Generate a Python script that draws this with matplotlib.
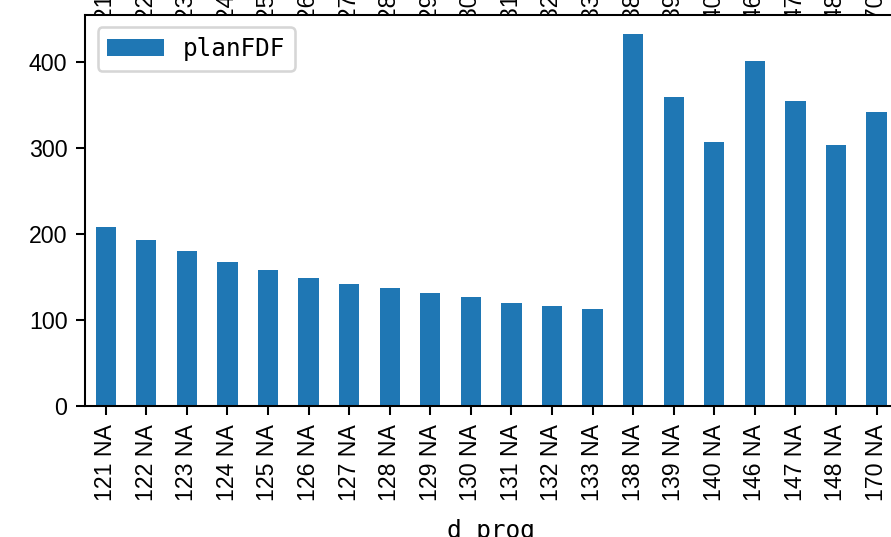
import matplotlib
matplotlib.use("Agg")
import matplotlib.pyplot as plt
import pandas as pd

# values
progs = ["121", "122", "123", "124", "125", "126", "127", "128", "129", "130",
         "131", "132", "133", "138", "139", "140", "146", "147", "148", "170"]
d_vals = ["NA"] * len(progs)
plan_fdf = [208.1, 193.0, 180.2, 167.4, 158.1, 148.8, 141.9, 137.2, 131.4, 126.7,
            119.8, 116.3, 112.8, 432.6, 359.3, 307.0, 401.2, 354.7, 303.5, 341.9]

plt.rcParams["font.family"] = ["Liberation Sans", "DejaVu Sans"]
plt.rcParams["font.size"] = 9
mono = ["DejaVu Sans Mono"]

idx = pd.MultiIndex.from_arrays([progs, d_vals], names=["prog", "d"])
df = pd.DataFrame({"planFDF": plan_fdf}, index=idx)
labels = [f"{p} {d}" for p, d in zip(progs, d_vals)]

DPI = 185
W, H = 892, 537
fig = plt.figure(figsize=(W / DPI, H / DPI), dpi=DPI)

# neighbouring subplot above the crop; only its tick labels bleed into view
ax_up = fig.add_axes([85.4 / W, 1 + 62 / H, 811.4 / W, 0.3])
df.plot(kind="bar", ax=ax_up, legend=False)
ax_up.set_xticklabels(labels, rotation=90)
ax_up.set_xlabel("")

ax = fig.add_axes([85.4 / W, (H - 406) / H, 811.4 / W, (406 - 15) / H])
ax.set_facecolor("white")
df.plot(kind="bar", ax=ax)
ax.set_xticklabels(labels, rotation=90)
ax.set_xlabel("d prog", fontfamily=mono, fontsize=9.5, labelpad=7)
ax.set_yticks([0, 100, 200, 300, 400])
ax.legend(loc="upper left", prop={"family": mono, "size": 9.5}, handlelength=2.3)

plt.savefig("out.png", dpi=DPI)
plt.close()
